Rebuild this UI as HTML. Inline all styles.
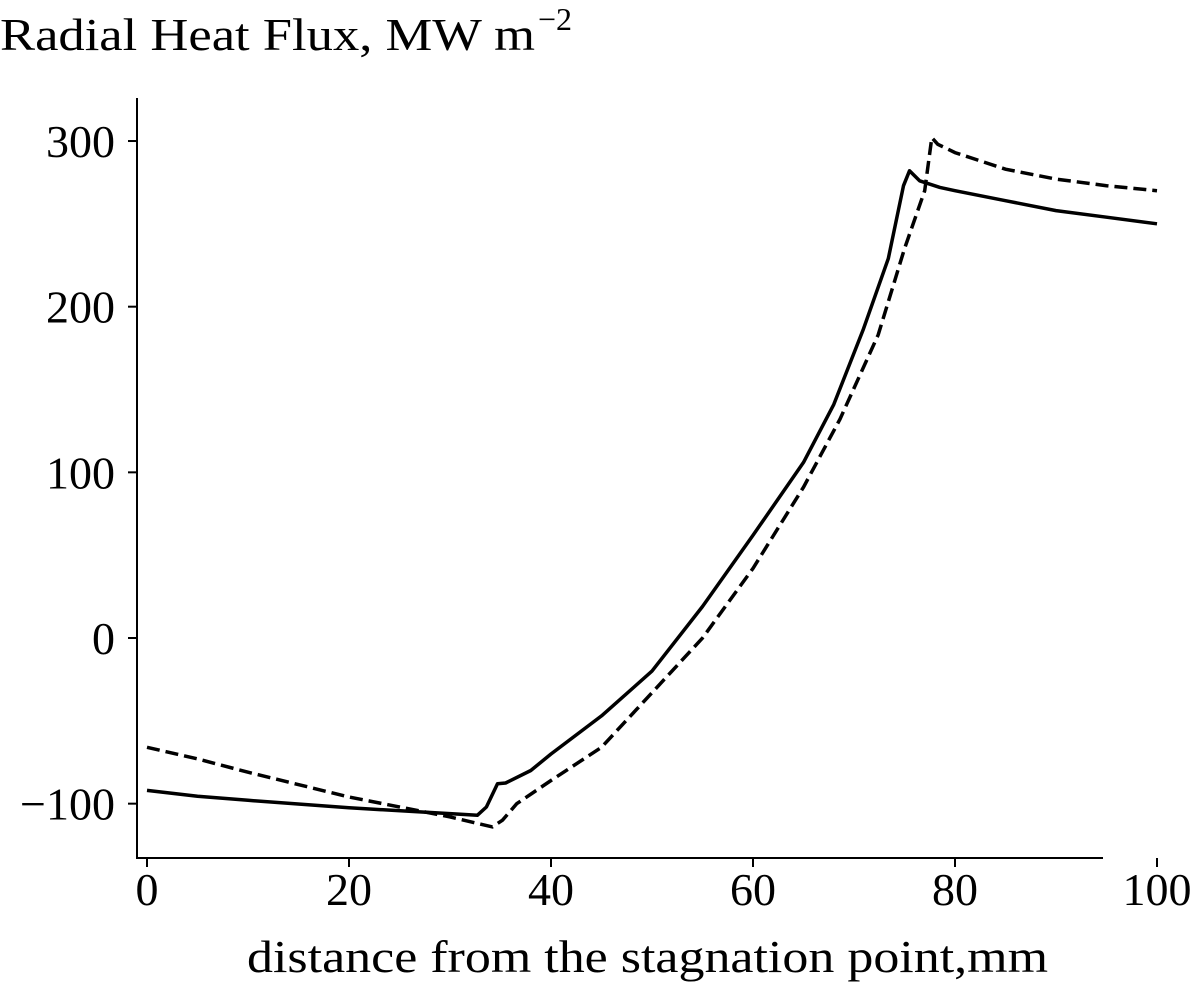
<!DOCTYPE html>
<html><head><meta charset="utf-8"><style>
html,body{margin:0;padding:0;background:#fff;}
svg{display:block;font-family:"Liberation Serif",serif;}
</style></head><body>
<svg id="chart" width="1200" height="993" viewBox="0 0 1200 993" xmlns="http://www.w3.org/2000/svg">
<text x="0" y="50" font-size="46" textLength="535" lengthAdjust="spacingAndGlyphs">Radial Heat Flux, MW m</text>
<text x="538" y="30" font-size="32">−2</text>
<g id="axes"></g>
<g id="series"></g>
<text x="247" y="972" font-size="46" textLength="801" lengthAdjust="spacingAndGlyphs">distance from the stagnation point,mm</text>
</svg>
<script>
const xTicks=[0,20,40,60,80,100];
const yTicks=[-100,0,100,200,300];
const yTickLabels=["−100","0","100","200","300"];
const solidX=[0,5,10,20,30,32.7,33.6,34.7,35.5,38,40,45,50,55,60,65,68,70.9,73.4,74.9,75.5,76.5,78.5,80,85,90,95,100];
const solidY=[-92,-95.5,-98,-102.5,-106,-107,-102,-88,-87.5,-80,-70,-47,-20,19,62,106,141,186,229,273,282,276,272,270,264,258,254,250];
const dashX=[0,5,10,20,30,34.2,35.2,36.6,40,45,50,55,60,65,68.6,72.4,75,77,77.7,78.3,80,85,90,95,100];
const dashY=[-66,-73,-81,-96,-108,-114,-110,-100,-86,-66,-33,0,42,91,132,183,235,270,302,298,293,283,277,273,270];
const sx=v=>147+10.1*v, sy=v=>638-1.6566*v;
const NS="http://www.w3.org/2000/svg";
const ax=document.getElementById('axes'), se=document.getElementById('series');
function mk(t,a,p){const e=document.createElementNS(NS,t);for(const k in a)e.setAttribute(k,a[k]);p.appendChild(e);return e;}
const ls=mk('line',{x1:137,y1:98,x2:137,y2:859,stroke:'#000','stroke-width':2},ax);


const bs=mk('line',{x1:136,y1:858,x2:1103,y2:858,stroke:'#000','stroke-width':2},ax);


xTicks.forEach(v=>{
 const t=mk('line',{x1:sx(v),y1:858,x2:sx(v),y2:867,stroke:'#000','stroke-width':2},ax);
 
 
 const l=mk('text',{x:sx(v),y:905,'font-size':46,'text-anchor':'middle'},ax);
 l.textContent=String(v);
 
 
});
yTicks.forEach((v,i)=>{
 const t=mk('line',{x1:128,y1:sy(v),x2:137,y2:sy(v),stroke:'#000','stroke-width':2},ax);
 
 
 const l=mk('text',{x:115,y:sy(v)+16,'font-size':46,'text-anchor':'end'},ax);
 l.textContent=yTickLabels[i];
 
 
});
function path(xs,ys){return xs.map((x,i)=>(i?'L':'M')+sx(x).toFixed(1)+' '+sy(ys[i]).toFixed(1)).join(' ');}
const p1=mk('path',{d:path(solidX,solidY),fill:'none',stroke:'#000','stroke-width':3.5,'stroke-linejoin':'round'},se);


const p2=mk('path',{d:path(dashX,dashY),fill:'none',stroke:'#000','stroke-width':3.5,'stroke-dasharray':'13 6'},se);


</script>
</body></html>
